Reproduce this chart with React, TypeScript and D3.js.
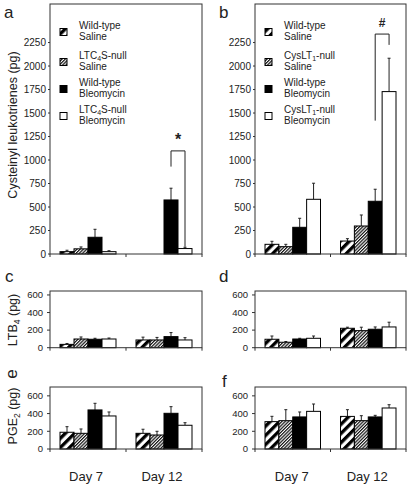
import React from "react";
import * as d3 from "d3";

const days = ["Day 7", "Day 12"];
const seriesKeys = ["wtSaline", "koSaline", "wtBleo", "koBleo"];
const legendA = [["Wild-type", "Saline"], ["LTC{4}S-null", "Saline"], ["Wild-type", "Bleomycin"], ["LTC{4}S-null", "Bleomycin"]];
const legendB = [["Wild-type", "Saline"], ["CysLT{1}-null", "Saline"], ["Wild-type", "Bleomycin"], ["CysLT{1}-null", "Bleomycin"]];

const topTicks = [0, 250, 500, 750, 1000, 1250, 1500, 1750, 2000, 2250];
const lowTicks = [0, 200, 400, 600];

// mean values [day][series]
const cysA = [[25, 55, 178, 25], [0, 0, 575, 58]];
const cysAsem = [[15, 20, 85, 10], [0, 0, 125, 14]];
const cysB = [[103, 78, 284, 582], [138, 298, 561, 1728]];
const cysBsem = [[32, 25, 96, 171], [25, 117, 128, 355]];
const ltbC = [[38, 99, 96, 99], [88, 88, 126, 88]];
const ltbCsem = [[10, 23, 11, 11], [32, 29, 46, 26]];
const ltbD = [[96, 62, 99, 107], [221, 194, 210, 236]];
const ltbDsem = [[37, 8, 8, 26], [12, 39, 26, 54]];
const pgeE = [[189, 177, 441, 373], [177, 158, 403, 268]];
const pgeEsem = [[63, 49, 75, 45], [46, 42, 75, 29]];
const pgeF = [[309, 320, 362, 425], [368, 320, 362, 463]];
const pgeFsem = [[60, 124, 56, 83], [76, 56, 18, 37]];

const fills = ["url(#hatchWide)", "url(#hatchFine)", "#000", "#fff"];
const FONT = "'Liberation Sans', Arial, Helvetica, sans-serif";
const INK = "#222";

function RichText({ s, subSize }: { s: string; subSize: number }) {
  const parts = s.split(/\{(.*?)\}/);
  return (
    <>
      {parts.map((p, i) =>
        i % 2 === 1 ? (
          <tspan key={i} fontSize={subSize} dy={2.5}>{p}</tspan>
        ) : (
          <tspan key={i} dy={i > 0 ? -2.5 : 0}>{p}</tspan>
        )
      )}
    </>
  );
}

type PanelProps = {
  x0: number; x1: number; yTop: number; yZero: number; max: number;
  ticks: number[]; means: number[][]; sems: number[][];
  labelGap: number; tickLen: number; tickFs: number;
  bracket?: { lo: number; top: number; hi: number; text: string; textV: number; fs: number };
};

function Panel(p: PanelProps) {
  const x = d3.scaleBand<string>().domain(days).range([p.x0, p.x1]).paddingInner(0).paddingOuter(0);
  const bw = x.bandwidth();
  const xs = d3.scaleBand<string>().domain(seriesKeys).range([10, bw - 10]).padding(0);
  const y = d3.scaleLinear().domain([0, p.max]).range([p.yZero, p.yTop]);
  const mid = (p.x0 + p.x1) / 2;
  const barW = xs.bandwidth();
  return (
    <g>
      {days.map((d, di) =>
        seriesKeys.map((k, si) => {
          const v = p.means[di][si];
          if (!v) return null;
          const bx = (x(d) as number) + (xs(k) as number);
          const cx = bx + barW / 2;
          const top = y(v);
          const eTop = y(v + p.sems[di][si]);
          return (
            <g key={d + k}>
              <line x1={cx} x2={cx} y1={top} y2={eTop} stroke={INK} strokeWidth={1} />
              <line x1={cx - 1.5} x2={cx + 1.5} y1={eTop} y2={eTop} stroke={INK} strokeWidth={1} />
              <rect x={bx} y={top} width={barW} height={p.yZero - top} fill={fills[si]} stroke="#000" strokeWidth={1} />
            </g>
          );
        })
      )}
      <rect x={p.x0} y={p.yTop} width={p.x1 - p.x0} height={p.yZero - p.yTop} fill="none" stroke="#333" strokeWidth={1} />
      {[p.x0, mid, p.x1].map((tx, i) => (
        <line key={i} x1={tx} x2={tx} y1={p.yZero} y2={p.yZero + 3} stroke="#333" />
      ))}
      {p.ticks.map((t) => (
        <g key={t}>
          <line x1={p.x0 - p.tickLen} x2={p.x0} y1={y(t)} y2={y(t)} stroke="#333" />
          <text x={p.x0 - p.labelGap} y={y(t)} dy="0.35em" textAnchor="end" fontSize={p.tickFs} fill={INK} fontFamily={FONT}>{t}</text>
        </g>
      ))}
      {p.bracket && (() => {
        const b = p.bracket!;
        const d = days[1];
        const xl = (x(d) as number) + (xs(seriesKeys[2]) as number) + barW / 2;
        const xr = (x(d) as number) + (xs(seriesKeys[3]) as number) + barW / 2;
        return (
          <g>
            <path d={`M${xl},${y(b.lo)}V${y(b.top)}H${xr}V${y(b.hi)}`} fill="none" stroke={INK} strokeWidth={1} />
            <text x={(xl + xr) / 2} y={y(b.textV)} textAnchor="middle" fontSize={b.fs} fontWeight="bold" fill={INK} fontFamily={FONT}>{b.text}</text>
          </g>
        );
      })()}
    </g>
  );
}

function Legend({ x0, items }: { x0: number; items: string[][] }) {
  const centers = [32, 62, 89, 116];
  return (
    <g fontFamily={FONT} fontSize={10} fill={INK}>
      {items.map((it, i) => (
        <g key={i}>
          <rect x={x0 + 10} y={centers[i] - 3.5} width={7} height={7} fill={fills[i]} stroke="#000" strokeWidth={1} />
          <text x={x0 + 29} y={centers[i] - 3.5}><RichText s={it[0]} subSize={7} /></text>
          <text x={x0 + 29} y={centers[i] + 7.5}><RichText s={it[1]} subSize={7} /></text>
        </g>
      ))}
    </g>
  );
}

export default function App() {
  const L = { x0: 50, x1: 202 };
  const R = { x0: 255, x1: 406 };
  const top = { yTop: 4, yZero: 254, max: 2660, ticks: topTicks, labelGap: 4, tickLen: 2, tickFs: 10 };
  const mid = { yTop: 291, yZero: 347.7, max: 645, ticks: lowTicks, labelGap: 7, tickLen: 3, tickFs: 9.5 };
  const bot = { yTop: 387, yZero: 449, max: 700, ticks: lowTicks, labelGap: 7, tickLen: 3, tickFs: 9.5 };
  const xDay = d3.scaleBand<string>().domain(days).range([L.x0, L.x1]);
  const xDayR = d3.scaleBand<string>().domain(days).range([R.x0, R.x1]);
  return (
    <svg width={410} height={486} style={{ position: "absolute", left: 0, top: 0, background: "#fff" }} fontFamily={FONT}>
      <defs>
        <pattern id="hatchWide" patternUnits="userSpaceOnUse" width={6.5} height={6.5} patternTransform="rotate(45)">
          <rect x={0} y={0} width={6.5} height={6.5} fill="#fff" />
          <rect x={0} y={0} width={3.3} height={6.5} fill="#000" />
        </pattern>
        <pattern id="hatchFine" patternUnits="userSpaceOnUse" width={2.3} height={2.3} patternTransform="rotate(45)">
          <rect x={0} y={0} width={2.3} height={2.3} fill="#fff" />
          <rect x={0} y={0} width={1.2} height={2.3} fill="#111" />
        </pattern>
      </defs>
      <rect x={0} y={0} width={410} height={486} fill="#fff" />

      <Panel {...L} {...top} means={cysA} sems={cysAsem}
        bracket={{ lo: 930, top: 1097, hi: 78, text: "*", textV: 1160, fs: 16 }} />
      <Panel {...R} {...top} means={cysB} sems={cysBsem}
        bracket={{ lo: 1419, top: 2340, hi: 2225, text: "#", textV: 2410, fs: 12 }} />
      <Panel {...L} {...mid} means={ltbC} sems={ltbCsem} />
      <Panel {...R} {...mid} means={ltbD} sems={ltbDsem} />
      <Panel {...L} {...bot} means={pgeE} sems={pgeEsem} />
      <Panel {...R} {...bot} means={pgeF} sems={pgeFsem} />

      <Legend x0={L.x0} items={legendA} />
      <Legend x0={R.x0} items={legendB} />

      <g fill={INK} fontFamily={FONT}>
        <text x={4} y={18} fontSize={17}>a</text>
        <text x={219} y={18} fontSize={17}>b</text>
        <text x={5} y={282} fontSize={17}>c</text>
        <text x={219} y={282} fontSize={17}>d</text>
        <text transform="translate(17,374) rotate(-90)" textAnchor="middle" fontSize={17}>e</text>
        <text x={222} y={387} fontSize={17}>f</text>

        <text transform="translate(17,125) rotate(-90)" textAnchor="middle" fontSize={12.5}>Cysteinyl leukotrienes (pg)</text>
        <text transform="translate(17,320) rotate(-90)" textAnchor="middle" fontSize={12.5}><RichText s="LTB{4} (pg)" subSize={8.5} /></text>
        <text transform="translate(17,416) rotate(-90)" textAnchor="middle" fontSize={12.5}><RichText s="PGE{2} (pg)" subSize={8.5} /></text>

        {days.map((d) => (
          <text key={"l" + d} x={(xDay(d) as number) + xDay.bandwidth() / 2 - 2} y={481} textAnchor="middle" fontSize={13}>{d}</text>
        ))}
        {days.map((d) => (
          <text key={"r" + d} x={(xDayR(d) as number) + xDayR.bandwidth() / 2 - 1} y={481} textAnchor="middle" fontSize={13}>{d}</text>
        ))}
      </g>
    </svg>
  );
}
